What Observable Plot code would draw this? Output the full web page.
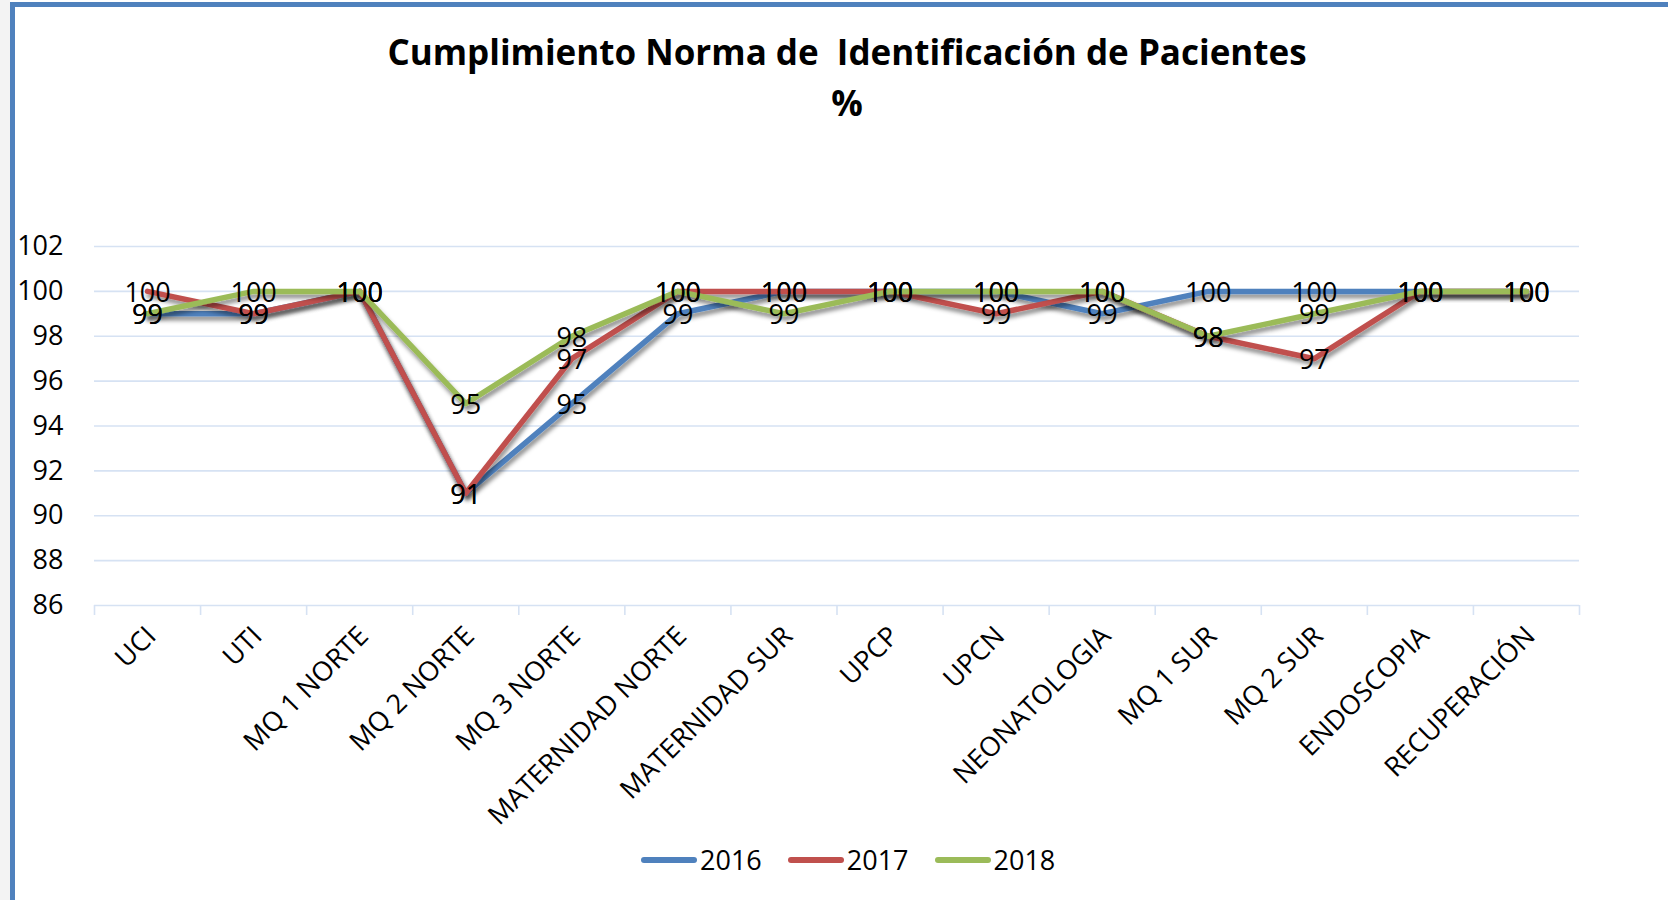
<!DOCTYPE html>
<html><head><meta charset="utf-8">
<script src="https://cdn.jsdelivr.net/npm/d3@7"></script>
<script src="https://cdn.jsdelivr.net/npm/@observablehq/plot@0.6"></script>
<style>
html,body{margin:0;padding:0;background:#fff;width:1668px;height:900px;overflow:hidden;font-family:"Open Sans",sans-serif;}
#strip{position:absolute;left:0;top:0;width:10px;height:900px;background:#f3f3f3;}
#frame{position:absolute;left:10px;top:2px;right:0;bottom:0;border-top:5px solid #4F81BD;border-left:5px solid #4F81BD;}
.title{position:absolute;left:0;width:1694px;text-align:center;font-weight:700;font-size:35px;line-height:36px;white-space:pre;color:#000;}
#chart{position:absolute;left:0;top:140px;}
#legend{position:absolute;left:641px;top:845px;display:flex;align-items:center;font-size:27px;line-height:30px;color:#000;}
.sw{width:56px;height:6px;border-radius:3px;margin-right:3px;}
.lt{margin-right:26px;}
</style></head>
<body>
<div id="strip"></div>
<div id="frame"></div>
<div class="title" style="top:34px">Cumplimiento Norma de  Identificación de Pacientes</div>
<div class="title" style="top:85px">%</div>
<div id="chart"></div>
<div id="legend"></div>
<script>
const categories = ["UCI","UTI","MQ 1 NORTE","MQ 2 NORTE","MQ 3 NORTE","MATERNIDAD NORTE","MATERNIDAD SUR","UPCP","UPCN","NEONATOLOGIA","MQ 1 SUR","MQ 2 SUR","ENDOSCOPIA","RECUPERACIÓN"];
const years = ["2016","2017","2018"];
const values2016 = [99,99,100,91,95,99,100,100,100,99,100,100,100,100];
const values2017 = [100,99,100,91,97,100,100,100,99,100,98,97,100,100];
const values2018 = [99,100,100,95,98,100,99,100,100,100,98,99,100,100];
const yTicks = [86,88,90,92,94,96,98,100,102];
const colors = ["#4F81BD","#C0504D","#9BBB59"];
const gridColor = "#d6e2f3";

const series = [values2016, values2017, values2018];
const rows = [];
series.forEach((vals, s) => vals.forEach((v, i) => rows.push({i, cat: categories[i], year: years[s], value: v})));
const idx = categories.map((_, i) => i);
const bounds = d3.range(categories.length + 1).map(i => i - 0.5);

const marks = [
  Plot.ruleY(yTicks, {stroke: gridColor, strokeWidth: 1.6}),
  Plot.axisX({ticks: bounds, tickSize: 10, tickFormat: () => "", stroke: gridColor, strokeWidth: 1.6, label: null}),
  Plot.axisY({ticks: yTicks, tickSize: 0, tickPadding: 31, fontSize: 27, fill: "#000", label: null}),
  Plot.axisX({ticks: idx, tickSize: 0, tickPadding: 26, tickRotate: -45, tickFormat: i => categories[i], fontSize: 27, fill: "#000", dx: 4, label: null})
];
years.forEach((yr, s) => {
  marks.push(Plot.line(rows.filter(r => r.year === yr), {x: "i", y: "value", stroke: colors[s], strokeWidth: 5.5, strokeLinejoin: "round", strokeLinecap: "round"}));
});
marks.push(Plot.text(rows, {x: "i", y: "value", text: d => String(d.value), fill: "#000", fontSize: 27, dy: 2}));

const chart = Plot.plot({
  width: 1668,
  height: 740,
  marginLeft: 94,
  marginRight: 89,
  marginTop: 106,
  marginBottom: 275,
  style: {fontFamily: "Open Sans", background: "transparent", color: "#000", overflow: "visible"},
  x: {type: "linear", domain: [-0.5, categories.length - 0.5], axis: null},
  y: {domain: [86, 102], axis: null},
  marks
});
// drop shadow for lines
const ns = "http://www.w3.org/2000/svg";
const defs = document.createElementNS(ns, "defs");
defs.innerHTML = '<filter id="shadow" x="-5%" y="-20%" width="110%" height="140%"><feDropShadow dx="1.5" dy="4" stdDeviation="2" flood-color="#000" flood-opacity="0.45"/></filter>';
chart.insertBefore(defs, chart.firstChild);
chart.querySelectorAll('g[aria-label="line"]').forEach(g => g.setAttribute("filter", "url(#shadow)"));
document.getElementById("chart").appendChild(chart);

const legend = document.getElementById("legend");
years.forEach((yr, s) => {
  const sw = document.createElement("div"); sw.className = "sw"; sw.style.background = colors[s];
  const t = document.createElement("span"); t.className = "lt"; t.textContent = yr;
  legend.appendChild(sw); legend.appendChild(t);
});
</script>
</body></html>
